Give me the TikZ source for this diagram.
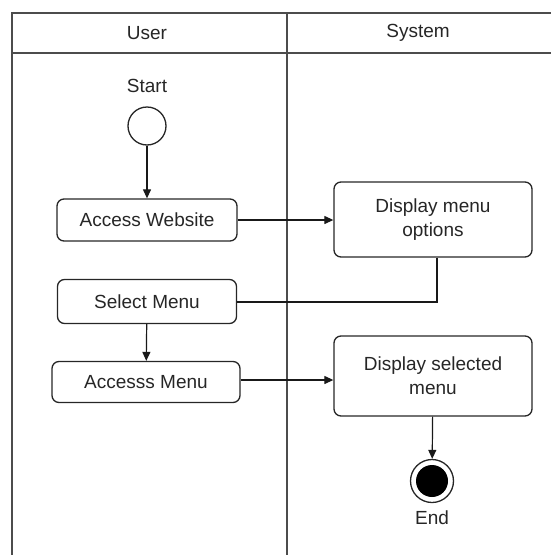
\documentclass[tikz,border=0pt]{standalone}
\usepackage{fontspec}
\setmainfont{Liberation Sans}
\usetikzlibrary{arrows.meta}
\begin{document}
\begin{tikzpicture}[x=1pt,y=-1pt,
  every node/.style={font=\fontsize{19}{24}\selectfont, text=black!85},
  frame/.style={draw=black!70, line width=1.6pt},
  act/.style={draw=black!85, line width=1.3pt, rounded corners=7pt, align=center, inner sep=0pt},
  flow/.style={draw=black!90, line width=1.2pt},
  arr/.style={flow, -{Triangle[length=9pt,width=8pt]}}]
\useasboundingbox (0,0) rectangle (550,555);
% swimlanes
\draw[frame] (12,555) -- (12,13) -- (551,13);
\draw[frame] (12,53) -- (551,53);
\draw[frame] (287,13) -- (287,555);
\node (user) at (147,33) {User};
\node (system) at (418,33) {System};
% start
\node (startlbl) at (147,86) {Start};
\node[circle, draw=black!85, line width=1.3pt, minimum size=38pt, inner sep=0pt] (start) at (147,126) {};
% actions
\node[act, minimum width=180pt, minimum height=42pt] (aw) at (147,220) {Access Website};
\node[act, minimum width=179pt, minimum height=44pt] (sm) at (147,301.5) {Select Menu};
\node[act, minimum width=188pt, minimum height=41pt] (am) at (146,382) {Accesss Menu};
\node[act, minimum width=198pt, minimum height=75pt] (dmo) at (433,219.5) {Display menu\\options};
\node[act, minimum width=198pt, minimum height=80pt] (dsm) at (433,376) {Display selected\\menu};
% end
\node[circle, draw=black!85, line width=1.3pt, minimum size=43pt, inner sep=0pt] (end) at (432,481) {};
\node[circle, fill=black, minimum size=32pt, inner sep=0pt] (endin) at (432,481) {};
\node (endlbl) at (432,518) {End};
% flows
\draw[arr] (start) -- (aw);
\draw[arr] (aw) -- (dmo.west |- aw);
\draw[flow] (dmo.south -| 437,0) |- (sm.east |- 0,302);
\draw[arr] (sm) -- (am);
\draw[arr] (am.east |- 0,380) -- (dsm.west |- 0,380);
\draw[arr] (dsm) -- (end);
\end{tikzpicture}
\end{document}
